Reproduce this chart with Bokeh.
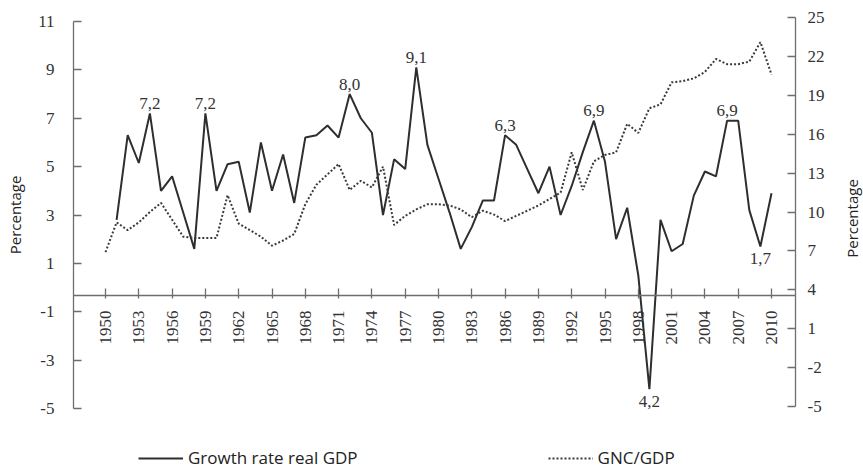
import math
from bokeh.plotting import figure
from bokeh.models import (LinearAxis, Range1d, FixedTicker, Legend, LegendItem, Label)
from bokeh.core.properties import value
from bokeh.embed import file_html
from bokeh.resources import INLINE

# ---------------- data ----------------
gdp_years = list(range(1951, 2011))
gdp_growth = [2.8, 6.3, 5.15, 7.2, 4.0, 4.6, 3.1, 1.6, 7.2, 4.0,
              5.1, 5.2, 3.1, 6.0, 4.0, 5.5, 3.5, 6.2, 6.3, 6.7,
              6.2, 8.0, 7.0, 6.4, 3.0, 5.3, 4.9, 9.1, 5.9, 4.5,
              3.1, 1.6, 2.5, 3.6, 3.6, 6.3, 5.9, 4.9, 3.9, 5.0,
              3.0, 4.2, 5.6, 6.9, 5.2, 2.0, 3.3, 0.5, -4.2, 2.8,
              1.5, 1.8, 3.8, 4.8, 4.6, 6.9, 6.9, 3.2, 1.7, 3.9]

gnc_years = list(range(1950, 2011))
gnc_gdp = [6.9, 9.2, 8.6, 9.2, 10.0, 10.7, 9.4, 8.1, 8.0, 8.0,
           8.0, 11.3, 9.1, 8.6, 8.1, 7.4, 7.8, 8.3, 10.6, 12.1,
           12.9, 13.7, 11.7, 12.4, 11.9, 13.5, 9.0, 9.7, 10.2, 10.6,
           10.6, 10.5, 10.2, 9.6, 10.1, 9.8, 9.3, 9.7, 10.1, 10.5,
           11.0, 11.5, 14.6, 11.7, 13.9, 14.4, 14.6, 16.8, 16.1, 18.0,
           18.3, 20.0, 20.1, 20.3, 20.8, 21.8, 21.4, 21.4, 21.6, 23.1, 20.6]

x_ticks = list(range(1950, 2011, 3))
left_ticks = [-5, -3, -1, 1, 3, 5, 7, 9, 11]
right_ticks = [-5, -2, 1, 4, 7, 10, 13, 16, 19, 22, 25]

peak_years = [1954, 1959, 1972, 1978, 1986, 1994, 2006]
peak_values = [7.2, 7.2, 8.0, 9.1, 6.3, 6.9, 6.9]
peak_labels = ["7,2", "7,2", "8,0", "9,1", "6,3", "6,9", "6,9"]

trough_years = [1999, 2009]
trough_values = [-4.2, 1.7]
trough_labels = ["4,2", "1,7"]

series_names = ["Growth rate real GDP", "GNC/GDP"]
axis_title = "Percentage"

# ---------------- layout (pixel anchors of the axes on the page) ----------------
W, H = 863, 470
PX_PER_YEAR = 11.1
X_1950 = 105.0                     # pixel of year 1950
X_LEFT_AXIS, X_RIGHT_AXIS = 73.0, 795.0
L_TOP_PX, L_BOT_PX = 21.0, 408.0    # pixels of left 11 and -5
R_TOP_PX, R_BOT_PX = 17.0, 406.0    # pixels of right 25 and -5
X_AXIS_PX = 295.0

x0 = 1950 - X_1950 / PX_PER_YEAR
x1 = x0 + W / PX_PER_YEAR
lpu = (L_BOT_PX - L_TOP_PX) / (left_ticks[-1] - left_ticks[0])
ly1 = left_ticks[-1] + L_TOP_PX / lpu
ly0 = left_ticks[0] - (H - L_BOT_PX) / lpu
rpu = (R_BOT_PX - R_TOP_PX) / (right_ticks[-1] - right_ticks[0])
ry1 = right_ticks[-1] + R_TOP_PX / rpu
ry0 = right_ticks[0] - (H - R_BOT_PX) / rpu
x_left_axis = x0 + X_LEFT_AXIS / PX_PER_YEAR
x_right_axis = x0 + X_RIGHT_AXIS / PX_PER_YEAR
y_xaxis = ly1 - X_AXIS_PX / lpu

# ---------------- styles ----------------
SERIF = "Liberation Serif"
SANS = "Open Sans"
AXIS_COLOR = "#6e6e6e"
TEXT_COLOR = "#333333"
LINE_COLOR = "#2e2e2e"

p = figure(width=W, height=H,
           x_range=Range1d(x0, x1), y_range=Range1d(ly0, ly1),
           x_axis_type=None, y_axis_type=None,
           output_backend="svg", toolbar_location=None,
           min_border=0)
p.title.visible = False
p.outline_line_color = None
p.xgrid.visible = False
p.ygrid.visible = False
p.background_fill_color = "white"
p.border_fill_color = "white"
p.extra_y_ranges = {"right": Range1d(ry0, ry1)}

def style_axis(ax):
    ax.axis_line_color = AXIS_COLOR
    ax.axis_line_width = 1.3
    ax.major_tick_line_color = AXIS_COLOR
    ax.major_tick_line_width = 1.3
    ax.minor_tick_line_color = None
    ax.major_label_text_font = SERIF
    ax.major_label_text_font_size = "17px"
    ax.major_label_text_color = TEXT_COLOR
    ax.axis_label_text_font = SANS
    ax.axis_label_text_font_style = "normal"
    ax.axis_label_text_font_size = "15px"
    ax.axis_label_text_color = "#222222"

left = LinearAxis(ticker=FixedTicker(ticks=left_ticks), axis_label=axis_title,
                  fixed_location=x_left_axis, bounds=(left_ticks[0], left_ticks[-1]),
                  major_label_overrides={t: str(t) for t in left_ticks})
style_axis(left)
left.major_tick_in = 8
left.major_tick_out = 0
left.major_label_standoff = 19
left.axis_label_standoff = 10
p.add_layout(left, "left")

right = LinearAxis(y_range_name="right", ticker=FixedTicker(ticks=right_ticks),
                   fixed_location=x_right_axis,
                   bounds=(right_ticks[0], right_ticks[-1]),
                   major_label_overrides={t: str(t) for t in right_ticks})
style_axis(right)
right.major_tick_in = 8
right.major_tick_out = 0
right.major_label_standoff = 12
p.add_layout(right, "right")

# right-hand axis title, reading bottom-to-top like the left one
p.add_layout(Label(x=851, y=H - 218, x_units="screen", y_units="screen",
                   text=axis_title, angle=math.pi / 2,
                   text_align="center", text_baseline="middle",
                   text_font=SANS, text_font_size="15px", text_color="#222222"))

bottom = LinearAxis(ticker=FixedTicker(ticks=x_ticks), fixed_location=y_xaxis,
                    bounds=(x_left_axis, x_right_axis))
style_axis(bottom)
bottom.major_tick_in = 7
bottom.major_tick_out = 3
bottom.major_label_standoff = 12
bottom.major_label_orientation = math.pi / 2
p.add_layout(bottom, "below")

r_gdp = p.line(gdp_years, gdp_growth, line_color=LINE_COLOR, line_width=2.0)
r_gnc = p.line(gnc_years, gnc_gdp, y_range_name="right", line_color="#3a3a3a",
               line_width=2.0, line_dash="2 2")

p.text(x=peak_years, y=peak_values, text=peak_labels,
       text_font=value(SERIF), text_font_size="17px", text_color=TEXT_COLOR,
       text_align="center", text_baseline="alphabetic", y_offset=-10)
p.text(x=trough_years, y=trough_values, text=trough_labels,
       text_font=value(SERIF), text_font_size="17px", text_color=TEXT_COLOR,
       text_align="center", text_baseline="top", y_offset=7)

legend = Legend(items=[LegendItem(label=series_names[0], renderers=[r_gdp]),
                       LegendItem(label=series_names[1], renderers=[r_gnc])],
                orientation="horizontal", location=(138, 1),
                padding=0, margin=0, spacing=190,
                glyph_width=45, glyph_height=20, label_standoff=5,
                label_text_font=SANS, label_text_font_size="17px",
                label_text_color="#222222",
                border_line_color=None, background_fill_alpha=0)
p.add_layout(legend, "center")

open("out.html", "w").write(file_html(p, INLINE))
